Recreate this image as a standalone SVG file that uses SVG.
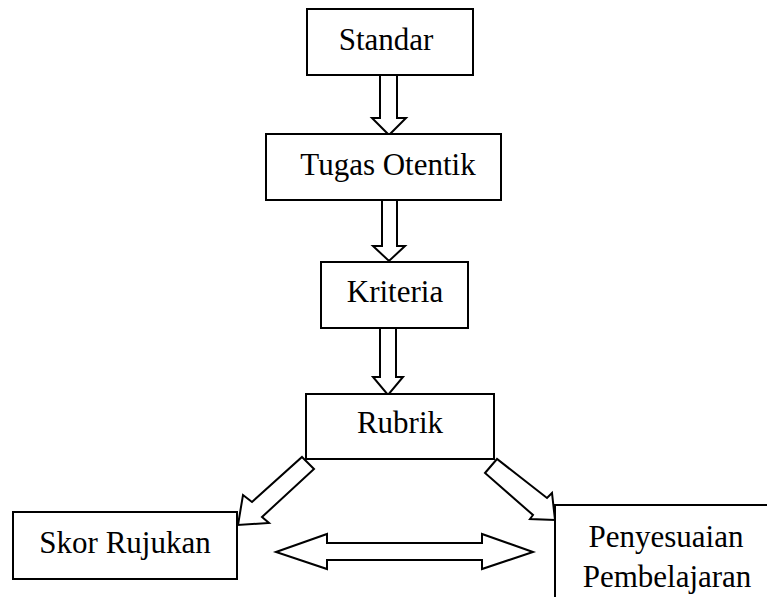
<svg xmlns="http://www.w3.org/2000/svg" width="767" height="597" viewBox="0 0 767 597">
  <style>
    .box { fill: #fff; stroke: #000; stroke-width: 2; }
    .arrow { fill: #fff; stroke: #000; stroke-width: 2; stroke-linejoin: miter; }
    .label { font-family: "Liberation Serif", "Times New Roman", serif; font-size: 31px; fill: #000; text-anchor: middle; }
  </style>
  <rect width="767" height="597" fill="#fff"/>

  <!-- block arrows between the steps -->
  <g id="connectors">
    <polygon class="arrow" points="380,75 397,75 397,118 406,118 389,135 372,118 380,118"/>
    <polygon class="arrow" points="382,200 397,200 397,246 405,246 389,261 373,246 382,246"/>
    <polygon class="arrow" points="380,328 396,328 396,377 403,377 388,395 373,377 380,377"/>
    <polygon class="arrow" points="302,457 314,469 262,517 269,523 238,525 243,495 252,502"/>
    <polygon class="arrow" points="497,459 485,473 533,515 530,519 555,520 552,493 547,498"/>
    <polygon class="arrow" points="276,552 327,534 327,543 482,543 482,534 533,552 482,569 482,560 327,560 327,569"/>
  </g>

  <g id="standar">
    <rect class="box" x="307" y="9" width="166" height="66"/>
    <text class="label" x="386" y="50">Standar</text>
  </g>

  <g id="tugas-otentik">
    <rect class="box" x="266" y="134" width="235" height="66"/>
    <text class="label" x="388" y="175">Tugas Otentik</text>
  </g>

  <g id="kriteria">
    <rect class="box" x="321" y="262" width="147" height="66"/>
    <text class="label" x="395" y="302">Kriteria</text>
  </g>

  <g id="rubrik">
    <rect class="box" x="306" y="394" width="188" height="65"/>
    <text class="label" x="400" y="433">Rubrik</text>
  </g>

  <g id="skor-rujukan">
    <rect class="box" x="13" y="512" width="224" height="67"/>
    <text class="label" x="125" y="553">Skor Rujukan</text>
  </g>

  <g id="penyesuaian-pembelajaran">
    <rect class="box" x="555" y="505" width="230" height="110"/>
    <text class="label" x="666" y="547">Penyesuaian</text>
    <text class="label" x="667" y="587">Pembelajaran</text>
  </g>
</svg>
